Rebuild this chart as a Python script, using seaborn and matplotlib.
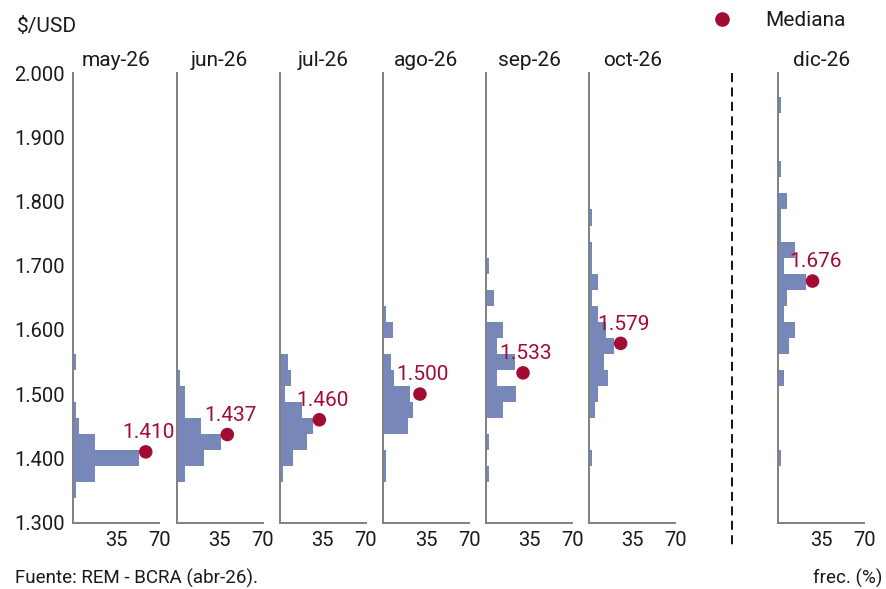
import matplotlib
matplotlib.use("Agg")
import matplotlib.pyplot as plt
from matplotlib.lines import Line2D
import pandas as pd
import seaborn as sns

# Horizontes del REM y medianas
months = ["may-26", "jun-26", "jul-26", "ago-26", "sep-26", "oct-26", "dic-26"]
medians = [1410, 1437, 1460, 1500, 1533, 1579, 1676]
median_labels = ["1.410", "1.437", "1.460", "1.500", "1.533", "1.579", "1.676"]

# Distribucion de respuestas (centro del intervalo de 25 $/USD, frec. %)
may_bins = [1350, 1375, 1400, 1425, 1450, 1475, 1550]
may_freq = [2.2, 17.8, 53.3, 17.8, 4.4, 2.2, 2.2]
jun_bins = [1375, 1400, 1425, 1450, 1475, 1500, 1525]
jun_freq = [6.7, 22.2, 35.6, 20.0, 6.7, 6.7, 2.2]
jul_bins = [1375, 1400, 1425, 1450, 1475, 1500, 1525, 1550]
jul_freq = [2.2, 11.1, 22.2, 26.7, 17.8, 4.4, 8.9, 6.7]
ago_bins = [1375, 1400, 1450, 1475, 1500, 1525, 1550, 1600, 1625]
ago_freq = [2.2, 2.2, 20.0, 24.4, 22.2, 8.9, 6.7, 8.2, 2.2]
sep_bins = [1375, 1425, 1475, 1500, 1525, 1550, 1575, 1600, 1650, 1700]
sep_freq = [2.2, 2.2, 13.3, 24.4, 8.9, 23.0, 8.9, 13.3, 6.0, 2.2]
oct_bins = [1400, 1475, 1500, 1525, 1550, 1575, 1600, 1625, 1650, 1675, 1700, 1725, 1775]
oct_freq = [2.2, 4.4, 6.7, 15.6, 12.0, 20.0, 13.3, 6.7, 2.2, 6.7, 2.2, 2.2, 2.2]
dic_bins = [1400, 1525, 1575, 1600, 1625, 1650, 1675, 1700, 1725, 1750, 1775, 1800, 1850, 1950]
dic_freq = [2.2, 4.4, 8.9, 13.3, 4.4, 6.7, 22.2, 4.4, 13.3, 2.2, 2.2, 6.7, 2.2, 2.2]

all_bins = [may_bins, jun_bins, jul_bins, ago_bins, sep_bins, oct_bins, dic_bins]
all_freq = [may_freq, jun_freq, jul_freq, ago_freq, sep_freq, oct_freq, dic_freq]

y_ticks = [1300, 1400, 1500, 1600, 1700, 1800, 1900, 2000]
y_tick_labels = ["1.300", "1.400", "1.500", "1.600", "1.700", "1.800", "1.900", "2.000"]
x_ticks = [35, 70]

sns.set_theme(style="white")
plt.rcParams["font.family"] = ["Roboto", "DejaVu Sans"]

bar_color = "#7787b9"
dot_color = "#a20b32"
spine_color = "#808080"
text_color = "#1a1a1a"

W, H = 887, 589
fig = plt.figure(figsize=(W / 100, H / 100), dpi=100)

# posiciones de los paneles en pixeles
lefts = [73.5, 176.8, 279.8, 383.2, 486.3, 589.3, 778.5]
ax_w = 86
ax_bottom, ax_top = 522.5, 73.0

for i, month in enumerate(months):
    ax = fig.add_axes([lefts[i] / W, 1 - ax_bottom / H, ax_w / W, (ax_bottom - ax_top) / H])
    df = pd.DataFrame({"precio": all_bins[i], "frec": all_freq[i]})
    sns.histplot(data=df, y="precio", weights="frec", binwidth=25,
                 binrange=(1287.5, 2012.5), color=bar_color, alpha=1,
                 linewidth=0, ax=ax)

    x_dot = max(all_freq[i]) + 5.5
    sns.scatterplot(x=[x_dot], y=[medians[i]], color=dot_color, s=95,
                    edgecolor="none", ax=ax, zorder=5, clip_on=False)
    ax.annotate(median_labels[i], (x_dot, medians[i]), xytext=(2, 7),
                textcoords="offset points", ha="center", va="bottom",
                color=dot_color, fontsize=15)

    ax.set_xlim(0, 70)
    ax.set_ylim(1300, 2000)
    ax.set_xticks(x_ticks)
    ax.set_yticks(y_ticks)
    ax.set_xlabel("")
    ax.set_ylabel("")
    if i == 0:
        ax.set_yticklabels(y_tick_labels)
    else:
        ax.tick_params(axis="y", labelleft=False)
    ax.tick_params(direction="in", length=4, width=1, color="#333333",
                   labelsize=14.5, labelcolor=text_color, pad=6)
    sns.despine(ax=ax)
    for side in ["left", "bottom"]:
        ax.spines[side].set_color(spine_color)
        ax.spines[side].set_linewidth(1.4)
    ax.set_title(month, fontsize=15, color=text_color, pad=5)

# separador entre oct-26 y dic-26
fig.add_artist(Line2D([732 / W, 732 / W], [1 - 73 / H, 1 - 548 / H],
                      color="black", lw=1.3, ls=(0, (5, 3))))

# leyenda
handle = Line2D([], [], marker="o", color=dot_color, ls="none", markersize=9.5)
fig.legend([handle], ["Mediana"], loc="center left",
           bbox_to_anchor=(711.6 / W, 1 - 21 / H), frameon=False,
           fontsize=15, handlelength=1.0, handletextpad=1.57,
           borderpad=0, borderaxespad=0, labelcolor=text_color)

fig.text(17 / W, 1 - 26 / H, "$/USD", fontsize=15, color=text_color, va="center")
fig.text(15 / W, 1 - 578 / H, "Fuente: REM - BCRA (abr-26).", fontsize=13.5,
         color=text_color, va="center")
fig.text(882 / W, 1 - 578 / H, "frec. (%)", fontsize=13.5, color=text_color,
         va="center", ha="right")

fig.savefig("out.png", dpi=100)
